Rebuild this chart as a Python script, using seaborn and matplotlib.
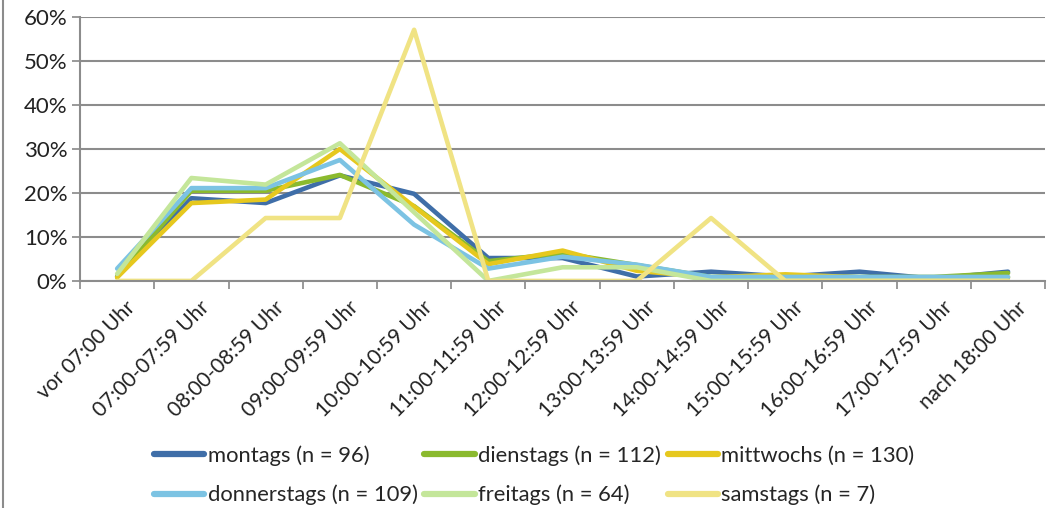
import matplotlib
matplotlib.use("Agg")
import matplotlib.pyplot as plt
import matplotlib.transforms as mtransforms
import seaborn as sns
import pandas as pd
import numpy as np
from matplotlib.lines import Line2D
from matplotlib.ticker import PercentFormatter, FixedLocator

categories = ["vor 07:00 Uhr", "07:00-07:59 Uhr", "08:00-08:59 Uhr", "09:00-09:59 Uhr",
              "10:00-10:59 Uhr", "11:00-11:59 Uhr", "12:00-12:59 Uhr", "13:00-13:59 Uhr",
              "14:00-14:59 Uhr", "15:00-15:59 Uhr", "16:00-16:59 Uhr", "17:00-17:59 Uhr",
              "nach 18:00 Uhr"]

montags = [1.0, 18.8, 17.7, 24.0, 19.8, 5.2, 5.2, 1.0, 2.1, 1.0, 2.1, 0.5, 2.1]
dienstags = [0.9, 20.5, 20.5, 24.1, 17.0, 4.5, 6.3, 3.6, 0.9, 0.9, 0.9, 0.9, 1.8]
mittwochs = [0.8, 17.7, 18.5, 30.0, 16.9, 3.8, 6.9, 2.3, 0.8, 1.5, 0.8, 0.8, 0.8]
donnerstags = [2.8, 21.1, 21.1, 27.5, 12.8, 2.8, 5.5, 3.7, 0.9, 0.9, 0.9, 0.9, 0.9]
freitags = [1.6, 23.4, 21.9, 31.3, 15.6, 0.0, 3.1, 3.1, 0.0, 0.0, 0.0, 0.0, 0.0]
samstags = [0.0, 0.0, 14.3, 14.3, 57.1, 0.0, 0.0, 0.0, 14.3, 0.0, 0.0, 0.0, 0.0]

series_names = ["montags (n = 96)", "dienstags (n = 112)", "mittwochs (n = 130)",
                "donnerstags (n = 109)", "freitags (n = 64)", "samstags (n = 7)"]
series_values = [montags, dienstags, mittwochs, donnerstags, freitags, samstags]
colors = ["#3F6EA8", "#8BBA2E", "#E6C81E", "#7CC3E3", "#C4E69A", "#F0E384"]

rows = []
for name, vals in zip(series_names, series_values):
    for i, (c, v) in enumerate(zip(categories, vals)):
        rows.append({"pos": i, "Zeit": c, "Anteil": v, "Tag": name})
df = pd.DataFrame(rows)

sns.set_theme(style="white")
plt.rcParams['font.family'] = ['Lato', 'DejaVu Sans']

fig = plt.figure(figsize=(10.6, 5.08), dpi=100)
ax = fig.add_axes([0.0755, 0.447, 0.9105, 0.5195])

sns.lineplot(data=df, x="pos", y="Anteil", hue="Tag", palette=colors,
             hue_order=series_names, sort=False, linewidth=3.3, ax=ax, legend=False)

ax.set_xlim(-0.5, len(categories) - 0.5)
ax.set_ylim(0, 60)
ax.set_yticks(np.arange(0, 61, 10))
ax.yaxis.set_major_formatter(PercentFormatter(decimals=0))
ax.set_xticks(range(len(categories)))
ax.set_xticklabels(categories, rotation=45, ha="right", rotation_mode="anchor")
ax.xaxis.set_minor_locator(FixedLocator(np.arange(-0.5, len(categories), 1.0)))
ax.tick_params(axis="x", which="major", length=0, pad=12, labelsize=15, colors="#222222")
ax.tick_params(axis="x", which="minor", length=6, width=1.2, color="#888888", direction="out", bottom=True)
ax.tick_params(axis="y", which="major", length=6, width=1.2, color="#888888", direction="out", left=True,
               labelsize=16, labelcolor="#222222", pad=3)
offset = mtransforms.ScaledTranslation(8 / 100, 0, fig.dpi_scale_trans)
for lab in ax.get_xticklabels():
    lab.set_transform(lab.get_transform() + offset)
ax.set_xlabel("")
ax.set_ylabel("")
ax.grid(axis="y", color="#8C8C8C", linewidth=1.5)
ax.set_axisbelow(True)
for s in ["top", "right"]:
    ax.spines[s].set_visible(False)
for s in ["left", "bottom"]:
    ax.spines[s].set_color("#8C8C8C")
    ax.spines[s].set_linewidth(1.5)

# figure border line at left
fig.add_artist(Line2D([0.003, 0.003], [0, 1], transform=fig.transFigure, color="#8C8C8C", linewidth=1.5))

handles = [Line2D([0], [0], color=c, linewidth=4.5, solid_capstyle="round") for c in colors]
order = [0, 3, 1, 4, 2, 5]
fig.legend([handles[i] for i in order], [series_names[i] for i in order],
           loc="center", bbox_to_anchor=(0.504, 0.064), ncol=3, frameon=False,
           fontsize=15.8, handlelength=2.3, handletextpad=0.15, columnspacing=0.3,
           labelspacing=0.85)

fig.savefig("out.png", dpi=100)
